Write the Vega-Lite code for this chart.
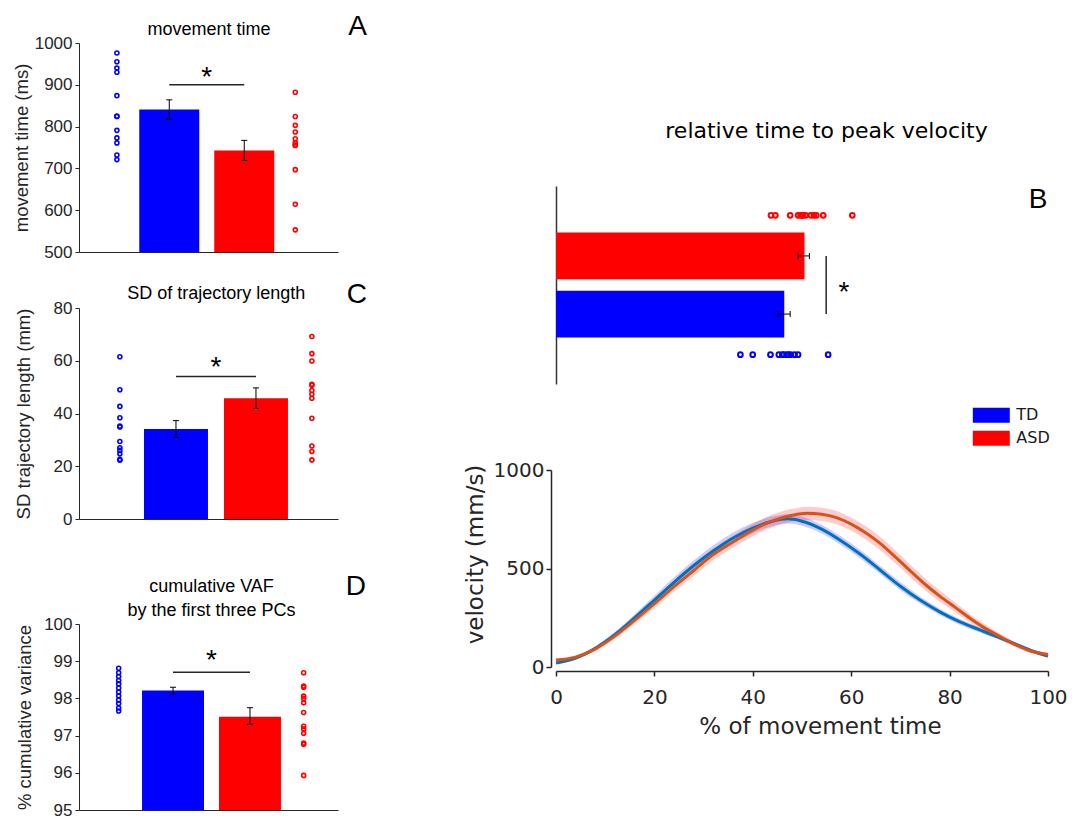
{
 "$schema": "https://vega.github.io/schema/vega-lite/v6.json",
 "background": "white",
 "padding": {"left": 12, "top": 13, "right": 0, "bottom": 0},
 "columns": 2,
 "align": "none",
 "spacing": 97,
 "resolve": {"legend": {"fill": "independent"}},
 "concat": [
  {
   "spacing": 21,
   "vconcat": [
    {
     "width": 259, "height": 209,
     "title": {"text": "A", "anchor": "end", "frame": "group", "fontSize": 28, "dx": 29, "dy": 25},
     "resolve": {"scale": {"x": "independent"}},
     "layer": [
      {
       "layer": [
        {
         "data": {"values": [{"group": "TD", "mean": 841, "lo": 818, "hi": 864}, {"group": "ASD", "mean": 743, "lo": 719, "hi": 767}]},
         "layer": [
          {"mark": {"type": "bar", "clip": true},
           "encoding": {
            "x": {"field": "group", "type": "nominal", "scale": {"type": "band", "domain": ["TD", "ASD"], "paddingInner": 0.2, "paddingOuter": 0.827, "align": 0.486}, "axis": {"orient": "bottom", "labels": false, "ticks": false, "title": null}},
            "y": {"field": "mean", "type": "quantitative", "scale": {"domain": [500, 1000], "nice": false, "zero": false}, "axis": {"title": "movement time (ms)", "values": [500, 600, 700, 800, 900, 1000], "tickCount": 6, "format": "d", "titlePadding": 2.7}},
            "fill": {"field": "group", "type": "nominal", "scale": {"domain": ["TD", "ASD"], "range": ["#0000FF", "#FF0000"]}, "legend": null}
           }},
          {"mark": {"type": "rule", "color": "#000000", "strokeWidth": 1},
           "encoding": {"x": {"field": "group", "type": "nominal"}, "y": {"field": "lo", "type": "quantitative"}, "y2": {"field": "hi"}}},
          {"mark": {"type": "tick", "color": "#000000", "size": 6, "thickness": 1, "opacity": 1},
           "encoding": {"x": {"field": "group", "type": "nominal"}, "y": {"field": "lo", "type": "quantitative"}}},
          {"mark": {"type": "tick", "color": "#000000", "size": 6, "thickness": 1, "opacity": 1},
           "encoding": {"x": {"field": "group", "type": "nominal"}, "y": {"field": "hi", "type": "quantitative"}}}
         ]
        },
        {
         "data": {"values": [{"from": "TD", "to": "ASD", "y": 900, "label": "*"}]},
         "layer": [
          {"mark": {"type": "rule", "color": "#262626", "strokeWidth": 1.5},
           "encoding": {"x": {"field": "from", "type": "nominal"}, "x2": {"field": "to"}, "y": {"field": "y", "type": "quantitative"}}},
          {"mark": {"type": "text", "fontSize": 28, "dx": 37.5, "dy": 1, "baseline": "alphabetic", "align": "center"},
           "encoding": {"x": {"field": "from", "type": "nominal"}, "y": {"field": "y", "type": "quantitative"}, "text": {"field": "label"}}}
         ]
        }
       ]
      },
      {
       "data": {"values": [
        {"group": "TD", "value": 976}, {"group": "TD", "value": 955}, {"group": "TD", "value": 940}, {"group": "TD", "value": 930},
        {"group": "TD", "value": 874}, {"group": "TD", "value": 825}, {"group": "TD", "value": 824}, {"group": "TD", "value": 791},
        {"group": "TD", "value": 773}, {"group": "TD", "value": 761}, {"group": "TD", "value": 732}, {"group": "TD", "value": 721},
        {"group": "ASD", "value": 882}, {"group": "ASD", "value": 824}, {"group": "ASD", "value": 803}, {"group": "ASD", "value": 787},
        {"group": "ASD", "value": 771}, {"group": "ASD", "value": 761}, {"group": "ASD", "value": 756}, {"group": "ASD", "value": 755},
        {"group": "ASD", "value": 697}, {"group": "ASD", "value": 614}, {"group": "ASD", "value": 553}
       ]},
       "mark": {"type": "point", "shape": "circle", "filled": false, "size": 16, "strokeWidth": 1.6, "opacity": 1},
       "encoding": {
        "x": {"field": "group", "type": "nominal", "scale": {"type": "point", "domain": ["TD", "ASD"], "padding": 0.226, "align": 0.47}, "axis": {"orient": "top", "domain": false, "ticks": false, "labels": false, "title": "movement time", "titleFontSize": 18, "titleColor": "#000000", "titlePadding": 5}},
        "y": {"field": "value", "type": "quantitative"},
        "stroke": {"field": "group", "type": "nominal", "scale": {"domain": ["TD", "ASD"], "range": ["#0000FF", "#FF0000"]}, "legend": null}
       }
      }
     ]
    },
    {
     "width": 259, "height": 211,
     "title": {"text": "C", "anchor": "end", "frame": "group", "fontSize": 28, "dx": 29, "dy": 28.7},
     "resolve": {"scale": {"x": "independent"}},
     "layer": [
      {
       "layer": [
        {
         "data": {"values": [{"group": "TD", "mean": 34.1, "lo": 30.9, "hi": 37.3}, {"group": "ASD", "mean": 45.8, "lo": 41.9, "hi": 49.7}]},
         "layer": [
          {"mark": {"type": "bar", "clip": true},
           "encoding": {
            "x": {"field": "group", "type": "nominal", "scale": {"type": "band", "domain": ["TD", "ASD"], "paddingInner": 0.2, "paddingOuter": 0.719, "align": 0.565}, "axis": {"orient": "bottom", "labels": false, "ticks": false, "title": null}},
            "y": {"field": "mean", "type": "quantitative", "scale": {"domain": [0, 80], "nice": false}, "axis": {"title": "SD trajectory length (mm)", "values": [0, 20, 40, 60, 80], "tickCount": 5, "titlePadding": 20}},
            "fill": {"field": "group", "type": "nominal", "scale": {"domain": ["TD", "ASD"], "range": ["#0000FF", "#FF0000"]}, "legend": null}
           }},
          {"mark": {"type": "rule", "color": "#000000", "strokeWidth": 1},
           "encoding": {"x": {"field": "group", "type": "nominal"}, "y": {"field": "lo", "type": "quantitative"}, "y2": {"field": "hi"}}},
          {"mark": {"type": "tick", "color": "#000000", "size": 6, "thickness": 1, "opacity": 1},
           "encoding": {"x": {"field": "group", "type": "nominal"}, "y": {"field": "lo", "type": "quantitative"}}},
          {"mark": {"type": "tick", "color": "#000000", "size": 6, "thickness": 1, "opacity": 1},
           "encoding": {"x": {"field": "group", "type": "nominal"}, "y": {"field": "hi", "type": "quantitative"}}}
         ]
        },
        {
         "data": {"values": [{"from": "TD", "to": "ASD", "y": 54, "label": "*"}]},
         "layer": [
          {"mark": {"type": "rule", "color": "#262626", "strokeWidth": 1.5},
           "encoding": {"x": {"field": "from", "type": "nominal"}, "x2": {"field": "to"}, "y": {"field": "y", "type": "quantitative"}}},
          {"mark": {"type": "text", "fontSize": 28, "dx": 40, "dy": -1, "baseline": "alphabetic", "align": "center"},
           "encoding": {"x": {"field": "from", "type": "nominal"}, "y": {"field": "y", "type": "quantitative"}, "text": {"field": "label"}}}
         ]
        }
       ]
      },
      {
       "data": {"values": [
        {"group": "TD", "value": 61.5}, {"group": "TD", "value": 49}, {"group": "TD", "value": 42.7}, {"group": "TD", "value": 38.4},
        {"group": "TD", "value": 35.2}, {"group": "TD", "value": 34.9}, {"group": "TD", "value": 29.4}, {"group": "TD", "value": 27.0},
        {"group": "TD", "value": 26.0}, {"group": "TD", "value": 24.7}, {"group": "TD", "value": 22.6}, {"group": "TD", "value": 22.3},
        {"group": "ASD", "value": 69.2}, {"group": "ASD", "value": 62.7}, {"group": "ASD", "value": 59.9}, {"group": "ASD", "value": 51.1},
        {"group": "ASD", "value": 50.7}, {"group": "ASD", "value": 48.7}, {"group": "ASD", "value": 47.3}, {"group": "ASD", "value": 45.8},
        {"group": "ASD", "value": 38.2}, {"group": "ASD", "value": 27.7}, {"group": "ASD", "value": 25.6}, {"group": "ASD", "value": 22.4}
       ]},
       "mark": {"type": "point", "shape": "circle", "filled": false, "size": 16, "strokeWidth": 1.6, "opacity": 1},
       "encoding": {
        "x": {"field": "group", "type": "nominal", "scale": {"type": "point", "domain": ["TD", "ASD"], "padding": 0.1745, "align": 0.61}, "axis": {"orient": "top", "domain": false, "ticks": false, "labels": false, "title": "SD of trajectory length", "titleFontSize": 18, "titleColor": "#000000", "titlePadding": 5.5, "titleX": 136.7}},
        "y": {"field": "value", "type": "quantitative"},
        "stroke": {"field": "group", "type": "nominal", "scale": {"domain": ["TD", "ASD"], "range": ["#0000FF", "#FF0000"]}, "legend": null}
       }
      }
     ]
    },
    {
     "width": 259, "height": 186,
     "title": {"text": [" ", "D"], "lineHeight": 24, "anchor": "end", "frame": "group", "fontSize": 28, "dx": 28, "dy": 27.4},
     "resolve": {"scale": {"x": "independent"}},
     "layer": [
      {
       "layer": [
        {
         "data": {"values": [{"group": "TD", "mean": 98.21, "lo": 98.11, "hi": 98.30}, {"group": "ASD", "mean": 97.51, "lo": 97.30, "hi": 97.75}]},
         "layer": [
          {"mark": {"type": "bar", "clip": true},
           "encoding": {
            "x": {"field": "group", "type": "nominal", "scale": {"type": "band", "domain": ["TD", "ASD"], "paddingInner": 0.195, "paddingOuter": 0.78, "align": 0.525}, "axis": {"orient": "bottom", "labels": false, "ticks": false, "title": null}},
            "y": {"field": "mean", "type": "quantitative", "scale": {"domain": [95, 100], "nice": false, "zero": false}, "axis": {"title": "% cumulative variance", "values": [95, 96, 97, 98, 99, 100], "tickCount": 6, "format": "d", "titlePadding": 9}},
            "fill": {"field": "group", "type": "nominal", "scale": {"domain": ["TD", "ASD"], "range": ["#0000FF", "#FF0000"]}, "legend": null}
           }},
          {"mark": {"type": "rule", "color": "#000000", "strokeWidth": 1},
           "encoding": {"x": {"field": "group", "type": "nominal"}, "y": {"field": "lo", "type": "quantitative"}, "y2": {"field": "hi"}}},
          {"mark": {"type": "tick", "color": "#000000", "size": 6, "thickness": 1, "opacity": 1},
           "encoding": {"x": {"field": "group", "type": "nominal"}, "y": {"field": "lo", "type": "quantitative"}}},
          {"mark": {"type": "tick", "color": "#000000", "size": 6, "thickness": 1, "opacity": 1},
           "encoding": {"x": {"field": "group", "type": "nominal"}, "y": {"field": "hi", "type": "quantitative"}}}
         ]
        },
        {
         "data": {"values": [{"from": "TD", "to": "ASD", "y": 98.7, "label": "*"}]},
         "layer": [
          {"mark": {"type": "rule", "color": "#262626", "strokeWidth": 1.5},
           "encoding": {"x": {"field": "from", "type": "nominal"}, "x2": {"field": "to"}, "y": {"field": "y", "type": "quantitative"}}},
          {"mark": {"type": "text", "fontSize": 28, "dx": 38.5, "dy": -3.4, "baseline": "alphabetic", "align": "center"},
           "encoding": {"x": {"field": "from", "type": "nominal"}, "y": {"field": "y", "type": "quantitative"}, "text": {"field": "label"}}}
         ]
        }
       ]
      },
      {
       "data": {"values": [
        {"group": "TD", "value": 98.81}, {"group": "TD", "value": 98.69}, {"group": "TD", "value": 98.59}, {"group": "TD", "value": 98.48},
        {"group": "TD", "value": 98.39}, {"group": "TD", "value": 98.28}, {"group": "TD", "value": 98.17}, {"group": "TD", "value": 98.07},
        {"group": "TD", "value": 97.96}, {"group": "TD", "value": 97.86}, {"group": "TD", "value": 97.74}, {"group": "TD", "value": 97.66},
        {"group": "ASD", "value": 98.69}, {"group": "ASD", "value": 98.33}, {"group": "ASD", "value": 98.30}, {"group": "ASD", "value": 98.06},
        {"group": "ASD", "value": 98.00}, {"group": "ASD", "value": 97.88}, {"group": "ASD", "value": 97.62}, {"group": "ASD", "value": 97.25},
        {"group": "ASD", "value": 97.18}, {"group": "ASD", "value": 97.06}, {"group": "ASD", "value": 96.80}, {"group": "ASD", "value": 96.77},
        {"group": "ASD", "value": 95.93}
       ]},
       "mark": {"type": "point", "shape": "circle", "filled": false, "size": 16, "strokeWidth": 1.6, "opacity": 1},
       "encoding": {
        "x": {"field": "group", "type": "nominal", "scale": {"type": "point", "domain": ["TD", "ASD"], "padding": 0.2, "align": 0.536}, "axis": {"orient": "top", "domain": false, "ticks": false, "labels": false, "title": ["cumulative VAF", "by the first three PCs"], "titleLineHeight": 24.3, "titleFontSize": 18, "titleColor": "#000000", "titlePadding": 4.2, "titleX": 132}},
        "y": {"field": "value", "type": "quantitative"},
        "stroke": {"field": "group", "type": "nominal", "scale": {"domain": ["TD", "ASD"], "range": ["#0000FF", "#FF0000"]}, "legend": null}
       }
      }
     ]
    }
   ]
  },
  {
   "spacing": 13,
   "resolve": {"legend": {"fill": "independent"}},
   "vconcat": [
    {
     "width": 493, "height": 129,
     "data": {"values": [{"label": "relative time to peak velocity"}]},
     "mark": {"type": "text", "font": "DejaVu Sans", "fontSize": 22, "dx": 24, "dy": 30.2, "baseline": "alphabetic", "align": "center", "color": "#000000"},
     "encoding": {"text": {"field": "label"}}
    },
    {
     "width": 493, "height": 198,
     "resolve": {"scale": {"y": "independent"}},
     "layer": [
      {
       "layer": [
        {
         "data": {"values": [{"group": "ASD", "mean": 50.4, "lo": 49.1, "hi": 51.4}, {"group": "TD", "mean": 46.3, "lo": 45.0, "hi": 47.5}]},
         "layer": [
          {"mark": {"type": "bar"},
           "encoding": {
            "y": {"field": "group", "type": "nominal", "scale": {"type": "band", "domain": ["ASD", "TD"], "paddingInner": 0.195, "paddingOuter": 0.8}, "axis": {"orient": "left", "labels": false, "ticks": false, "title": null, "domainWidth": 1.5, "domainColor": "#333333"}},
            "x": {"field": "mean", "type": "quantitative", "scale": {"domain": [0, 100], "nice": false}, "axis": {"orient": "top", "domain": false, "ticks": false, "labels": false, "title": "B", "titleFontSize": 28, "titleColor": "#000000", "titleX": 491, "titleY": 21, "titleAlign": "right", "titleBaseline": "alphabetic", "titleAngle": 0}},
            "fill": {"field": "group", "type": "nominal", "scale": {"domain": ["TD", "ASD"], "range": ["#0000FF", "#FF0000"]},
                     "legend": {"orient": "none", "legendX": 425.8, "legendY": 219.75, "title": null, "symbolType": "M-2,-0.8L2,-0.8L2,0.8L-2,0.8Z", "symbolSize": 342, "symbolStrokeWidth": 0, "symbolOpacity": 1, "labelFont": "DejaVu Sans", "labelFontSize": 16, "labelColor": "#1a1a1a", "labelOffset": 15.5, "rowPadding": 5, "padding": 0}}
           }},
          {"mark": {"type": "rule", "color": "#000000", "strokeWidth": 1},
           "encoding": {"y": {"field": "group", "type": "nominal"}, "x": {"field": "lo", "type": "quantitative"}, "x2": {"field": "hi"}}},
          {"mark": {"type": "tick", "color": "#000000", "size": 6, "thickness": 1, "opacity": 1},
           "encoding": {"y": {"field": "group", "type": "nominal"}, "x": {"field": "lo", "type": "quantitative"}}},
          {"mark": {"type": "tick", "color": "#000000", "size": 6, "thickness": 1, "opacity": 1},
           "encoding": {"y": {"field": "group", "type": "nominal"}, "x": {"field": "hi", "type": "quantitative"}}}
         ]
        },
        {
         "data": {"values": [{"from": "ASD", "to": "TD", "x": 54.8, "label": "*"}]},
         "layer": [
          {"mark": {"type": "rule", "color": "#262626", "strokeWidth": 1.5},
           "encoding": {"y": {"field": "from", "type": "nominal"}, "y2": {"field": "to"}, "x": {"field": "x", "type": "quantitative"}}},
          {"mark": {"type": "text", "fontSize": 28, "dx": 17.7, "dy": 45, "baseline": "alphabetic", "align": "center"},
           "encoding": {"y": {"field": "from", "type": "nominal"}, "x": {"field": "x", "type": "quantitative"}, "text": {"field": "label"}}}
         ]
        }
       ]
      },
      {
       "data": {"values": [
        {"group": "ASD", "value": 43.6}, {"group": "ASD", "value": 44.5}, {"group": "ASD", "value": 47.5}, {"group": "ASD", "value": 49.1},
        {"group": "ASD", "value": 49.6}, {"group": "ASD", "value": 49.9}, {"group": "ASD", "value": 50.1}, {"group": "ASD", "value": 50.6},
        {"group": "ASD", "value": 51.7}, {"group": "ASD", "value": 52.3}, {"group": "ASD", "value": 52.8}, {"group": "ASD", "value": 54.2},
        {"group": "ASD", "value": 60.1},
        {"group": "TD", "value": 37.4}, {"group": "TD", "value": 39.9}, {"group": "TD", "value": 43.5}, {"group": "TD", "value": 45.2},
        {"group": "TD", "value": 45.9}, {"group": "TD", "value": 46.2}, {"group": "TD", "value": 46.8}, {"group": "TD", "value": 47.2},
        {"group": "TD", "value": 47.6}, {"group": "TD", "value": 48.4}, {"group": "TD", "value": 49.1}, {"group": "TD", "value": 55.2}
       ]},
       "mark": {"type": "point", "shape": "circle", "filled": false, "size": 22, "strokeWidth": 2, "opacity": 1},
       "encoding": {
        "y": {"field": "group", "type": "nominal", "scale": {"type": "point", "domain": ["ASD", "TD"], "padding": 0.21}, "axis": null},
        "x": {"field": "value", "type": "quantitative"},
        "stroke": {"field": "group", "type": "nominal", "scale": {"domain": ["TD", "ASD"], "range": ["#0000FF", "#FF0000"]}, "legend": null}
       }
      }
     ]
    },
    {
     "width": 492, "height": 197,
     "data": {"values": [
      {"group": "TD", "pct": 0, "v": 20, "lo": 14, "hi": 26},
      {"group": "TD", "pct": 4, "v": 45, "lo": 37, "hi": 53},
      {"group": "TD", "pct": 8, "v": 95, "lo": 85, "hi": 105},
      {"group": "TD", "pct": 12, "v": 165, "lo": 151, "hi": 179},
      {"group": "TD", "pct": 16, "v": 250, "lo": 232, "hi": 268},
      {"group": "TD", "pct": 20, "v": 340, "lo": 318, "hi": 362},
      {"group": "TD", "pct": 24, "v": 430, "lo": 405, "hi": 455},
      {"group": "TD", "pct": 28, "v": 515, "lo": 488, "hi": 542},
      {"group": "TD", "pct": 32, "v": 590, "lo": 562, "hi": 618},
      {"group": "TD", "pct": 36, "v": 655, "lo": 627, "hi": 683},
      {"group": "TD", "pct": 40, "v": 705, "lo": 678, "hi": 732},
      {"group": "TD", "pct": 44, "v": 740, "lo": 715, "hi": 765},
      {"group": "TD", "pct": 47, "v": 752, "lo": 728, "hi": 776},
      {"group": "TD", "pct": 50, "v": 740, "lo": 717, "hi": 763},
      {"group": "TD", "pct": 54, "v": 700, "lo": 678, "hi": 722},
      {"group": "TD", "pct": 58, "v": 640, "lo": 618, "hi": 662},
      {"group": "TD", "pct": 62, "v": 570, "lo": 548, "hi": 592},
      {"group": "TD", "pct": 66, "v": 490, "lo": 469, "hi": 511},
      {"group": "TD", "pct": 70, "v": 410, "lo": 390, "hi": 430},
      {"group": "TD", "pct": 74, "v": 340, "lo": 322, "hi": 358},
      {"group": "TD", "pct": 78, "v": 280, "lo": 264, "hi": 296},
      {"group": "TD", "pct": 82, "v": 230, "lo": 215, "hi": 245},
      {"group": "TD", "pct": 86, "v": 190, "lo": 177, "hi": 203},
      {"group": "TD", "pct": 90, "v": 150, "lo": 139, "hi": 161},
      {"group": "TD", "pct": 94, "v": 110, "lo": 101, "hi": 119},
      {"group": "TD", "pct": 97, "v": 80, "lo": 72, "hi": 88},
      {"group": "TD", "pct": 100, "v": 55, "lo": 48, "hi": 62},
      {"group": "ASD", "pct": 0, "v": 35, "lo": 28, "hi": 42},
      {"group": "ASD", "pct": 4, "v": 50, "lo": 41, "hi": 59},
      {"group": "ASD", "pct": 8, "v": 92, "lo": 81, "hi": 103},
      {"group": "ASD", "pct": 12, "v": 158, "lo": 144, "hi": 172},
      {"group": "ASD", "pct": 16, "v": 238, "lo": 220, "hi": 256},
      {"group": "ASD", "pct": 20, "v": 322, "lo": 300, "hi": 344},
      {"group": "ASD", "pct": 24, "v": 408, "lo": 383, "hi": 433},
      {"group": "ASD", "pct": 28, "v": 490, "lo": 463, "hi": 517},
      {"group": "ASD", "pct": 32, "v": 572, "lo": 543, "hi": 601},
      {"group": "ASD", "pct": 36, "v": 635, "lo": 605, "hi": 665},
      {"group": "ASD", "pct": 40, "v": 695, "lo": 664, "hi": 726},
      {"group": "ASD", "pct": 44, "v": 742, "lo": 710, "hi": 774},
      {"group": "ASD", "pct": 48, "v": 770, "lo": 737, "hi": 803},
      {"group": "ASD", "pct": 51, "v": 780, "lo": 746, "hi": 814},
      {"group": "ASD", "pct": 54, "v": 775, "lo": 741, "hi": 809},
      {"group": "ASD", "pct": 57, "v": 758, "lo": 724, "hi": 792},
      {"group": "ASD", "pct": 60, "v": 725, "lo": 691, "hi": 759},
      {"group": "ASD", "pct": 63, "v": 680, "lo": 646, "hi": 714},
      {"group": "ASD", "pct": 66, "v": 625, "lo": 591, "hi": 659},
      {"group": "ASD", "pct": 69, "v": 558, "lo": 525, "hi": 591},
      {"group": "ASD", "pct": 72, "v": 488, "lo": 456, "hi": 520},
      {"group": "ASD", "pct": 75, "v": 420, "lo": 390, "hi": 450},
      {"group": "ASD", "pct": 78, "v": 360, "lo": 332, "hi": 388},
      {"group": "ASD", "pct": 81, "v": 305, "lo": 280, "hi": 330},
      {"group": "ASD", "pct": 84, "v": 250, "lo": 228, "hi": 272},
      {"group": "ASD", "pct": 87, "v": 200, "lo": 181, "hi": 219},
      {"group": "ASD", "pct": 90, "v": 158, "lo": 142, "hi": 174},
      {"group": "ASD", "pct": 93, "v": 118, "lo": 105, "hi": 131},
      {"group": "ASD", "pct": 96, "v": 85, "lo": 75, "hi": 95},
      {"group": "ASD", "pct": 100, "v": 63, "lo": 55, "hi": 71}
     ]},
     "layer": [
      {"mark": {"type": "area", "fillOpacity": 0.2, "interpolate": "monotone"},
       "encoding": {
        "x": {"field": "pct", "type": "quantitative", "scale": {"domain": [0, 100], "nice": false},
              "axis": {"orient": "bottom", "offset": 4, "values": [0, 20, 40, 60, 80, 100], "tickCount": 6, "tickSize": 5, "tickWidth": 1.5, "domainWidth": 1.5, "labelFont": "DejaVu Sans", "labelFontSize": 20, "labelPadding": 11, "labelFlush": false, "title": "% of movement time", "titleFont": "DejaVu Sans", "titleFontSize": 23, "titlePadding": 8.6, "titleX": 264}},
        "y": {"field": "lo", "type": "quantitative", "scale": {"domain": [0, 1000], "nice": false},
              "axis": {"offset": 5, "values": [0, 500, 1000], "tickCount": 3, "format": "d", "tickSize": 5, "tickWidth": 1.5, "domainWidth": 1.5, "labelFont": "DejaVu Sans", "labelFontSize": 20, "labelPadding": 2, "title": "velocity (mm/s)", "titleFont": "DejaVu Sans", "titleFontSize": 23, "titlePadding": 6, "titleY": 84}},
        "y2": {"field": "hi"},
        "fill": {"field": "group", "type": "nominal", "scale": {"domain": ["TD", "ASD"], "range": ["#0000FF", "#FF0000"]}, "legend": null}
       }},
      {"mark": {"type": "line", "strokeWidth": 3, "interpolate": "monotone"},
       "encoding": {
        "x": {"field": "pct", "type": "quantitative"},
        "y": {"field": "v", "type": "quantitative"},
        "color": {"field": "group", "type": "nominal", "scale": {"domain": ["TD", "ASD"], "range": ["#0072BD", "#D95319"]}, "legend": null}
       }}
     ]
    }
   ]
  }
 ],
 "config": {
  "view": {"stroke": null},
  "axis": {"grid": false, "labelOverlap": false, "labelSeparation": 0, "labelFont": "Liberation Sans", "titleFont": "Liberation Sans", "labelFontSize": 17, "titleFontSize": 18.5, "titleFontWeight": "normal", "labelColor": "#262626", "titleColor": "#262626", "domainColor": "#262626", "tickColor": "#262626", "tickSize": 4, "labelPadding": 3},
  "title": {"font": "Liberation Sans", "fontWeight": "normal", "color": "#000000", "offset": 0},
  "text": {"font": "Liberation Sans", "color": "#000000"}
 }
}
